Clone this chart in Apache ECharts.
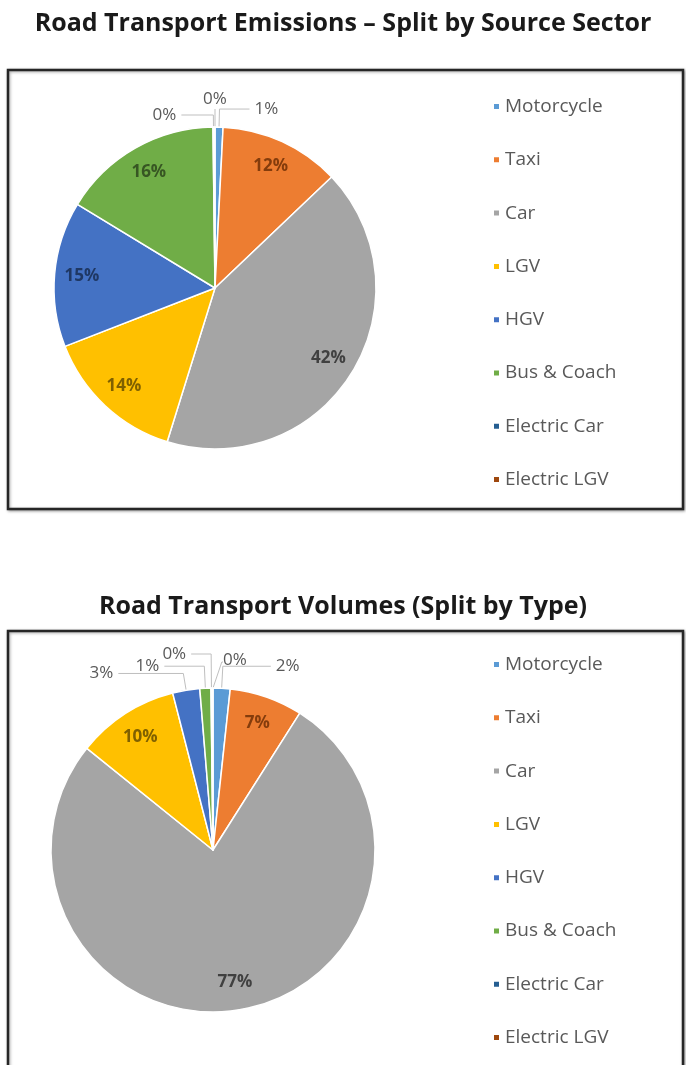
<!DOCTYPE html>
<html><head><meta charset="utf-8">
<script src="https://cdn.jsdelivr.net/npm/echarts@6/dist/echarts.min.js"></script>
<style>html,body{margin:0;padding:0;background:#fff}#c{width:686px;height:1065px}</style>
</head><body><div id="c"></div>
<script>
const names = ['Motorcycle','Taxi','Car','LGV','HGV','Bus & Coach','Electric Car','Electric LGV'];
const emissions = [0.8, 12.1, 41.9, 14.3, 14.6, 16.1, 0.1, 0.1];
const volumes = [1.7, 7.3, 76.8, 10.2, 2.7, 1.1, 0.1, 0.1];
const titles = ['Road Transport Emissions \u2013 Split by Source Sector', 'Road Transport Volumes (Split by Type)'];

const colors = ['#5B9BD5','#ED7D31','#A5A5A5','#FFC000','#4472C4','#70AD47','#255E91','#9E480E'];
const labelColors = ['#1F4E79','#843C0C','#404040','#7F6000','#1F3864','#375623','#132F48','#4F2407'];
const FONT = 'Open Sans';

// label-line styling for small (outside-labelled) slices: [length, length2]
const pies = [
  {values: emissions, center: [215, 288], r: 161,
   lines: {0: [18, 30], 6: [12, 32]}, lastLabel: {dx: 0, dy: 28, align: 'center'}},
  {values: volumes, center: [213, 850], r: 162,
   lines: {0: [22, 48], 4: [17, 65], 5: [22, 40], 6: [34, 20]}, lastLabel: {dx: 22, dy: 28, align: 'center'}}
];

const chart = echarts.init(document.getElementById('c'), null, {renderer:'canvas'});

function makeSeries(p) {
  const last = p.values.length - 1;
  return {
    type: 'pie', center: p.center, radius: p.r, startAngle: 90, clockwise: true,
    avoidLabelOverlap: false, legendHoverLink: false, animation: false,
    itemStyle: {borderColor: '#fff', borderWidth: 1.5},
    label: {formatter: q => Math.round(q.value) + '%', fontSize: 17, fontFamily: FONT},
    labelLine: {length: 14, length2: 22, lineStyle: {color: '#bfbfbf', width: 1}},
    data: names.map((n, i) => {
      const small = p.values[i] < 5;
      const ln = p.lines[i] || [14, 22];
      return {
        name: n, value: p.values[i],
        itemStyle: {color: colors[i]},
        label: small
          ? {position: 'outside', color: '#595959', fontWeight: 'normal'}
          : {position: 'inside', color: labelColors[i], fontWeight: 'bold'},
        labelLine: {show: small, length: ln[0], length2: ln[1]}
      };
    }),
    labelLayout: function (params) {
      const i = params.dataIndex;
      const v = p.values[i];
      const cx = p.center[0], cy = p.center[1];
      if (i === last) {
        const L = p.lastLabel;
        const top = cy - p.r;
        return {
          x: cx + L.dx, y: top - L.dy, align: L.align, verticalAlign: 'middle',
          labelLinePoints: L.dx === 0
            ? [[cx, top], [cx, top - L.dy + 10], [cx, top - L.dy + 10]]
            : [[cx, top], [cx + L.dx * 0.4, top - L.dy + 2], [cx + L.dx - 12, top - L.dy + 2]]
        };
      }
      if (v < 5) return {};
      const lr = params.labelRect;
      const lx = lr.x + lr.width / 2, ly = lr.y + lr.height / 2;
      const k = 1.6;
      return {x: cx + (lx - cx) * k, y: cy + (ly - cy) * k};
    }
  };
}

const legendBase = {orient: 'vertical', left: 487, itemWidth: 7, itemHeight: 7, itemGap: 34.3, icon: 'rect',
  data: names, selectedMode: false, textStyle: {fontFamily: FONT, fontSize: 19, color: '#595959'}};

const option = {
  backgroundColor: '#fff',
  animation: false,
  title: [
    {text: titles[0], left: 'center', top: 6, textStyle: {fontFamily: FONT, fontWeight: 'bold', fontSize: 25, color: '#1a1a1a'}},
    {text: titles[1], left: 'center', top: 589, textStyle: {fontFamily: FONT, fontWeight: 'bold', fontSize: 25, color: '#1a1a1a'}}
  ],
  legend: [
    Object.assign({}, legendBase, {top: 92}),
    Object.assign({}, legendBase, {top: 650})
  ],
  graphic: [
    {type: 'rect', shape: {x: 8, y: 70, width: 675, height: 439}, z: -1,
     style: {fill: '#fff', stroke: '#262626', lineWidth: 2.5, shadowBlur: 3, shadowColor: 'rgba(0,0,0,0.35)', shadowOffsetX: 1, shadowOffsetY: 1}},
    {type: 'rect', shape: {x: 8, y: 631, width: 675, height: 460}, z: -1,
     style: {fill: '#fff', stroke: '#262626', lineWidth: 2.5, shadowBlur: 3, shadowColor: 'rgba(0,0,0,0.35)', shadowOffsetX: 1, shadowOffsetY: 1}}
  ],
  series: pies.map(makeSeries)
};
chart.setOption(option);
</script></body></html>
